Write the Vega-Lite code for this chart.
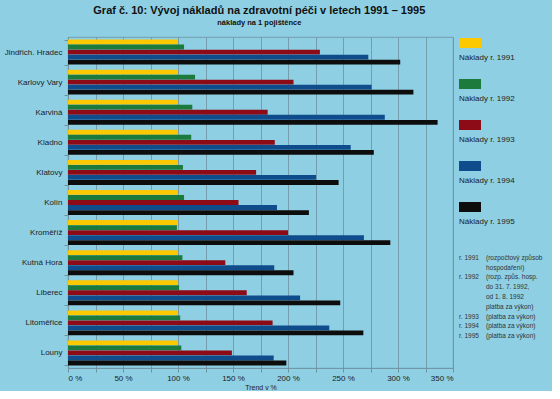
{
  "$schema": "https://vega.github.io/schema/vega-lite/v6.json",
  "background": "#8ecfe3",
  "padding": {"left": 0, "top": 5, "right": 0, "bottom": 0},
  "spacing": 5,
  "title": {
    "text": "Graf č. 10: Vývoj nákladů na zdravotní péči v letech 1991 – 1995",
    "subtitle": "náklady na 1 pojištěnce",
    "anchor": "middle",
    "dx": -17,
    "fontSize": 11,
    "fontWeight": "bold",
    "color": "#111111",
    "subtitleFontSize": 7.5,
    "subtitleFontWeight": "bold",
    "subtitleColor": "#111111",
    "subtitlePadding": 3,
    "offset": 6
  },
  "config": {
    "font": "Liberation Sans"
  },
  "datasets": {
    "naklady": [
      {"kraj": "Jindřich. Hradec", "rok": "1991", "hodnota": 100},
      {"kraj": "Jindřich. Hradec", "rok": "1992", "hodnota": 105.5},
      {"kraj": "Jindřich. Hradec", "rok": "1993", "hodnota": 229},
      {"kraj": "Jindřich. Hradec", "rok": "1994", "hodnota": 273},
      {"kraj": "Jindřich. Hradec", "rok": "1995", "hodnota": 302},
      {"kraj": "Karlovy Vary", "rok": "1991", "hodnota": 100},
      {"kraj": "Karlovy Vary", "rok": "1992", "hodnota": 115.5},
      {"kraj": "Karlovy Vary", "rok": "1993", "hodnota": 205},
      {"kraj": "Karlovy Vary", "rok": "1994", "hodnota": 276},
      {"kraj": "Karlovy Vary", "rok": "1995", "hodnota": 314},
      {"kraj": "Karviná", "rok": "1991", "hodnota": 100},
      {"kraj": "Karviná", "rok": "1992", "hodnota": 113},
      {"kraj": "Karviná", "rok": "1993", "hodnota": 181.5},
      {"kraj": "Karviná", "rok": "1994", "hodnota": 288},
      {"kraj": "Karviná", "rok": "1995", "hodnota": 336},
      {"kraj": "Kladno", "rok": "1991", "hodnota": 100},
      {"kraj": "Kladno", "rok": "1992", "hodnota": 112},
      {"kraj": "Kladno", "rok": "1993", "hodnota": 188},
      {"kraj": "Kladno", "rok": "1994", "hodnota": 257},
      {"kraj": "Kladno", "rok": "1995", "hodnota": 278},
      {"kraj": "Klatovy", "rok": "1991", "hodnota": 100},
      {"kraj": "Klatovy", "rok": "1992", "hodnota": 104.5},
      {"kraj": "Klatovy", "rok": "1993", "hodnota": 171},
      {"kraj": "Klatovy", "rok": "1994", "hodnota": 225.5},
      {"kraj": "Klatovy", "rok": "1995", "hodnota": 246},
      {"kraj": "Kolín", "rok": "1991", "hodnota": 100},
      {"kraj": "Kolín", "rok": "1992", "hodnota": 105.5},
      {"kraj": "Kolín", "rok": "1993", "hodnota": 155},
      {"kraj": "Kolín", "rok": "1994", "hodnota": 190},
      {"kraj": "Kolín", "rok": "1995", "hodnota": 219},
      {"kraj": "Kroměříž", "rok": "1991", "hodnota": 100},
      {"kraj": "Kroměříž", "rok": "1992", "hodnota": 99},
      {"kraj": "Kroměříž", "rok": "1993", "hodnota": 200},
      {"kraj": "Kroměříž", "rok": "1994", "hodnota": 269},
      {"kraj": "Kroměříž", "rok": "1995", "hodnota": 293},
      {"kraj": "Kutná Hora", "rok": "1991", "hodnota": 100},
      {"kraj": "Kutná Hora", "rok": "1992", "hodnota": 104},
      {"kraj": "Kutná Hora", "rok": "1993", "hodnota": 143},
      {"kraj": "Kutná Hora", "rok": "1994", "hodnota": 187.5},
      {"kraj": "Kutná Hora", "rok": "1995", "hodnota": 205},
      {"kraj": "Liberec", "rok": "1991", "hodnota": 100},
      {"kraj": "Liberec", "rok": "1992", "hodnota": 101},
      {"kraj": "Liberec", "rok": "1993", "hodnota": 162.5},
      {"kraj": "Liberec", "rok": "1994", "hodnota": 211},
      {"kraj": "Liberec", "rok": "1995", "hodnota": 247.5},
      {"kraj": "Litoměřice", "rok": "1991", "hodnota": 100},
      {"kraj": "Litoměřice", "rok": "1992", "hodnota": 102},
      {"kraj": "Litoměřice", "rok": "1993", "hodnota": 186},
      {"kraj": "Litoměřice", "rok": "1994", "hodnota": 237.5},
      {"kraj": "Litoměřice", "rok": "1995", "hodnota": 268.5},
      {"kraj": "Louny", "rok": "1991", "hodnota": 100},
      {"kraj": "Louny", "rok": "1992", "hodnota": 103},
      {"kraj": "Louny", "rok": "1993", "hodnota": 149},
      {"kraj": "Louny", "rok": "1994", "hodnota": 187},
      {"kraj": "Louny", "rok": "1995", "hodnota": 198.5}
    ],
    "legenda": [
      {"rok": "1991", "popis": "Náklady r. 1991"},
      {"rok": "1992", "popis": "Náklady r. 1992"},
      {"rok": "1993", "popis": "Náklady r. 1993"},
      {"rok": "1994", "popis": "Náklady r. 1994"},
      {"rok": "1995", "popis": "Náklady r. 1995"}
    ],
    "poznamky": [
      {"radek": 1, "rok": "r. 1991", "text": "(rozpočtový způsob"},
      {"radek": 2, "rok": "", "text": "hospodaření)"},
      {"radek": 3, "rok": "r. 1992", "text": "(rozp. způs. hosp."},
      {"radek": 4, "rok": "", "text": "do 31. 7. 1992,"},
      {"radek": 5, "rok": "", "text": "od 1. 8. 1992"},
      {"radek": 6, "rok": "", "text": "platba za výkon)"},
      {"radek": 7, "rok": "r. 1993", "text": "(platba za výkon)"},
      {"radek": 8, "rok": "r. 1994", "text": "(platba za výkon)"},
      {"radek": 9, "rok": "r. 1995", "text": "(platba za výkon)"}
    ]
  },
  "hconcat": [
    {
      "width": 385,
      "height": 331,
      "view": {"stroke": "#6f929f", "strokeWidth": 0.8},
      "data": {"name": "naklady"},
      "mark": {"type": "bar"},
      "encoding": {
        "y": {
          "field": "kraj",
          "type": "nominal",
          "sort": null,
          "title": null,
          "scale": {"paddingInner": 0.17, "paddingOuter": 0.085},
          "axis": {
            "labelFontSize": 8,
            "labelColor": "#222222",
            "labelPadding": 2,
            "labelLimit": 61,
            "tickSize": 4,
            "tickBand": "extent",
            "tickColor": "#6f929f",
            "domainColor": "#6f929f",
            "domainWidth": 0.8,
            "minExtent": 67,
            "maxExtent": 67
          }
        },
        "yOffset": {
          "field": "rok",
          "type": "nominal",
          "sort": ["1991", "1992", "1993", "1994", "1995"],
          "scale": {"paddingInner": 0.04, "paddingOuter": 0}
        },
        "x": {
          "field": "hodnota",
          "type": "quantitative",
          "scale": {"domain": [0, 350], "nice": false},
          "axis": {
            "values": [0, 25, 50, 75, 100, 125, 150, 175, 200, 225, 250, 275, 300, 325, 350],
            "labelExpr": "datum.value + ' %'",
            "labelFontSize": 8,
            "labelColor": "#222222",
            "labelPadding": 2,
            "tickSize": 4,
            "tickColor": "#6f929f",
            "domainColor": "#6f929f",
            "domainWidth": 0.8,
            "grid": true,
            "gridColor": "#6f929f",
            "gridWidth": 0.8,
            "title": "Trend v %",
            "titleFontSize": 7,
            "titleFontWeight": "normal",
            "titleColor": "#222222",
            "titlePadding": 1
          }
        },
        "color": {
          "field": "rok",
          "type": "nominal",
          "scale": {
            "domain": ["1991", "1992", "1993", "1994", "1995"],
            "range": ["#fcc800", "#1c7a3c", "#8c0b17", "#0e4c8c", "#0d0d0d"]
          },
          "legend": null
        }
      }
    },
    {
      "spacing": 11,
      "vconcat": [
        {
          "width": 93,
          "height": 205,
          "view": {"stroke": null},
          "data": {"name": "legenda"},
          "encoding": {
            "y": {
              "field": "rok",
              "type": "nominal",
              "sort": null,
              "scale": {"paddingInner": 0, "paddingOuter": 0},
              "axis": null
            }
          },
          "layer": [
            {
              "mark": {"type": "bar", "height": 10, "yOffset": -14.5},
              "encoding": {
                "x": {"datum": 0, "type": "quantitative", "scale": {"domain": [0, 93], "nice": false}, "axis": null},
                "x2": {"datum": 22},
                "color": {"field": "rok", "type": "nominal", "legend": null}
              }
            },
            {
              "mark": {"type": "text", "align": "left", "baseline": "middle", "fontSize": 8, "color": "#222222"},
              "encoding": {
                "x": {"datum": 0, "type": "quantitative", "scale": {"domain": [0, 93], "nice": false}, "axis": null},
                "text": {"field": "popis"}
              }
            }
          ]
        },
        {
          "width": 93,
          "height": 88,
          "view": {"stroke": null},
          "data": {"name": "poznamky"},
          "encoding": {
            "y": {
              "field": "radek",
              "type": "ordinal",
              "scale": {"paddingInner": 0, "paddingOuter": 0},
              "axis": null
            }
          },
          "layer": [
            {
              "mark": {"type": "text", "align": "left", "baseline": "middle", "fontSize": 6.5, "color": "#333333"},
              "encoding": {
                "x": {"datum": 0, "type": "quantitative", "scale": {"domain": [0, 93], "nice": false}, "axis": null},
                "text": {"field": "rok"}
              }
            },
            {
              "mark": {"type": "text", "align": "left", "baseline": "middle", "fontSize": 6.5, "color": "#333333"},
              "encoding": {
                "x": {"datum": 27, "type": "quantitative", "scale": {"domain": [0, 93], "nice": false}, "axis": null},
                "text": {"field": "text"}
              }
            }
          ]
        }
      ]
    }
  ]
}
